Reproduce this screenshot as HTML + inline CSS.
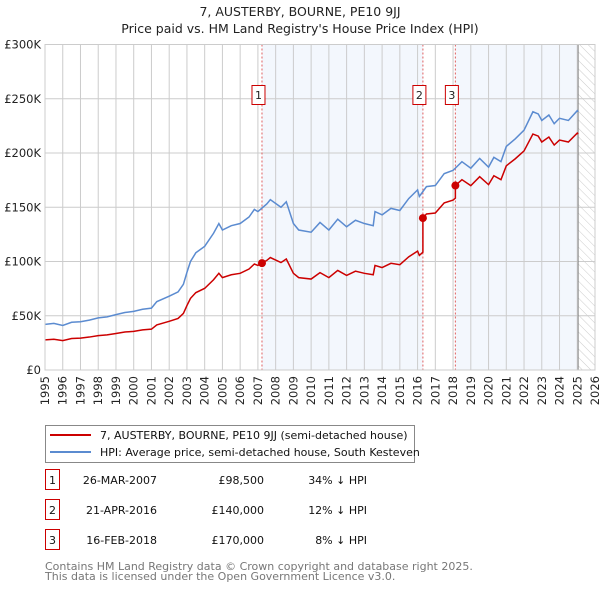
<!DOCTYPE html>
<html><head><meta charset="utf-8"><style>
body{margin:0;background:#fff;font-family:"Liberation Sans","DejaVu Sans",sans-serif;}
svg text{font-family:"DejaVu Sans","Liberation Sans",sans-serif;}
</style></head><body>
<svg id="c" width="600" height="590" viewBox="0 0 600 590">
<defs><pattern id="hatch" width="6" height="6" patternUnits="userSpaceOnUse" patternTransform="rotate(-45)"><line x1="0" y1="0" x2="0" y2="6" stroke="#ccc" stroke-width="1"/></pattern></defs>
<text x="300" y="16" text-anchor="middle" font-size="12.5" fill="#222">7, AUSTERBY, BOURNE, PE10 9JJ</text>
<text x="300" y="33" text-anchor="middle" font-size="12.5" fill="#222">Price paid vs. HM Land Registry's House Price Index (HPI)</text>
<g id="plot"></g>
<g>
<rect x="45.5" y="425.5" width="369" height="37" fill="#fff" stroke="#888"/>
<line x1="50" y1="435" x2="91" y2="435" stroke="#cc0000" stroke-width="2"/>
<text x="100" y="439" font-size="11" fill="#111">7, AUSTERBY, BOURNE, PE10 9JJ (semi-detached house)</text>
<line x1="50" y1="452" x2="91" y2="452" stroke="#5b8bd0" stroke-width="2"/>
<text x="100" y="456" font-size="11" fill="#111">HPI: Average price, semi-detached house, South Kesteven</text>
</g>
<g id="table"></g>
<text x="45" y="570" font-size="11" fill="#777">Contains HM Land Registry data © Crown copyright and database right 2025.</text>
<text x="45" y="580" font-size="11" fill="#777">This data is licensed under the Open Government Licence v3.0.</text>
</svg>
<script>
const hpiYears=[1995,1995.5,1996,1996.5,1997,1997.5,1998,1998.5,1999,1999.5,2000,2000.5,2001,2001.3,2002,2002.5,2002.8,2003,2003.2,2003.5,2004,2004.5,2004.8,2005,2005.5,2006,2006.5,2006.8,2007,2007.5,2007.7,2008.3,2008.6,2009,2009.3,2010,2010.5,2011,2011.5,2012,2012.5,2013,2013.5,2013.6,2014,2014.5,2015,2015.5,2016,2016.1,2016.5,2017,2017.5,2018,2018.5,2019,2019.5,2020,2020.3,2020.7,2021,2021.5,2022,2022.5,2022.8,2023,2023.4,2023.7,2024,2024.5,2025,2025.05];
const hpiValues=[42,43,41,44,44.5,46,48,49,51,53,54,56,57,63,68,72,79,90,100,108,114,126,135,129,133,135,141,148,146,153,157,150,155,135,129,127,136,129,139,132,138,135,133,146,143,149,147,158,166,160,169,170,181,184,192,186,195,187,196,192,206,213,221,238,236,230,235,227,232,230,239,238];
const saleYears=[2007.23,2016.3,2018.13];
const salePrices=[98.5,140,170];
const saleLabels=["1","2","3"];
const saleDates=["26-MAR-2007","21-APR-2016","16-FEB-2018"];
const salePriceText=["£98,500","£140,000","£170,000"];
const saleHpiText=["34% ↓ HPI","12% ↓ HPI","8% ↓ HPI"];
const yTicks=[0,50,100,150,200,250,300];
const yTickLabels=["£0","£50K","£100K","£150K","£200K","£250K","£300K"];
const xTicks=[];for(let y=1995;y<=2026;y++)xTicks.push(y);
const dataEnd=2025.05;

const X0=45,X1=595,Y0=370,Y1=44.5;
const xs=v=>X0+(v-1995)/(2026-1995)*(X1-X0);
const ys=v=>Y0-v/300*(Y0-Y1);
const NS="http://www.w3.org/2000/svg";
const P=document.getElementById('plot');
function mk(tag,attrs,parent){const e=document.createElementNS(NS,tag);for(const k in attrs)e.setAttribute(k,attrs[k]);(parent||P).appendChild(e);return e;}
function hpiAt(t){for(let i=1;i<hpiYears.length;i++){if(t<=hpiYears[i]){const f=(t-hpiYears[i-1])/(hpiYears[i]-hpiYears[i-1]);return hpiValues[i-1]+f*(hpiValues[i]-hpiValues[i-1]);}}return hpiValues[hpiValues.length-1];}

let e;
e=mk('rect',{x:xs(saleYears[0]),y:Y1,width:xs(saleYears[1])-xs(saleYears[0]),height:Y0-Y1,fill:'#eef3fc',opacity:0.7});

e=mk('rect',{x:xs(saleYears[2]),y:Y1,width:xs(dataEnd)-xs(saleYears[2]),height:Y0-Y1,fill:'#eef3fc',opacity:0.7});

e=mk('rect',{x:xs(dataEnd),y:Y1,width:X1-xs(dataEnd),height:Y0-Y1,fill:'url(#hatch)'});

xTicks.forEach(t=>{e=mk('line',{x1:xs(t),x2:xs(t),y1:Y1,y2:Y0,stroke:'#ccc','stroke-width':1});

e=mk('text',{x:0,y:0,transform:`translate(${xs(t)+4},${Y0+6}) rotate(-90)`,'text-anchor':'end','font-size':11.5,fill:'#222'});e.textContent=t;
});
yTicks.forEach((t,i)=>{e=mk('line',{x1:X0,x2:X1,y1:ys(t),y2:ys(t),stroke:'#ccc','stroke-width':1});

e=mk('text',{x:X0-4,y:ys(t)+4,'text-anchor':'end','font-size':11.5,fill:'#222'});e.textContent=yTickLabels[i];
});
e=mk('line',{x1:xs(dataEnd),x2:xs(dataEnd),y1:Y1,y2:Y0,stroke:'#888','stroke-width':1});

saleYears.forEach((s,i)=>{e=mk('line',{x1:xs(s),x2:xs(s),y1:Y1,y2:Y0,stroke:'#e06060','stroke-width':1,'stroke-dasharray':'2,2'});
});

e=mk('polyline',{points:hpiYears.map((t,i)=>xs(t)+','+ys(hpiValues[i])).join(' '),fill:'none',stroke:'#5b8bd0','stroke-width':1.5});

const pts=[];
let ratio=salePrices[0]/hpiAt(saleYears[0]);
let si=1;
hpiYears.forEach((t,i)=>{
 while(si<saleYears.length&&t>=saleYears[si]){const h=hpiAt(saleYears[si]);pts.push([saleYears[si],h*ratio]);ratio=salePrices[si]/h;pts.push([saleYears[si],salePrices[si]]);si++;}
 pts.push([t,hpiValues[i]*ratio]);
});
e=mk('polyline',{points:pts.map(p=>xs(p[0])+','+ys(p[1])).join(' '),fill:'none',stroke:'#cc0000','stroke-width':1.5});

saleYears.forEach((s,i)=>{e=mk('circle',{cx:xs(s),cy:ys(salePrices[i]),r:4,fill:'#cc0000'});

const bx=xs(s)-10;
e=mk('rect',{x:bx,y:85.5,width:13,height:19,fill:'#fff',stroke:'#cc0000'});

e=mk('text',{x:bx+6.5,y:99,'text-anchor':'middle','font-size':11,fill:'#222'});e.textContent=saleLabels[i];
});
e=mk('rect',{x:X0,y:Y1,width:X1-X0,height:Y0-Y1,fill:'none',stroke:'#ccc'});


const T=document.getElementById('table');
saleYears.forEach((s,i)=>{const y=483+i*30;
e=mk('rect',{x:45.5,y:y-13.5,width:14,height:20,fill:'#fff',stroke:'#cc0000'},T);

e=mk('text',{x:52.5,y:y+1,'text-anchor':'middle','font-size':11,fill:'#111'},T);e.textContent=saleLabels[i];

e=mk('text',{x:157,y:y+1,'text-anchor':'end','font-size':11,fill:'#111'},T);e.textContent=saleDates[i];

e=mk('text',{x:264,y:y+1,'text-anchor':'end','font-size':11,fill:'#111'},T);e.textContent=salePriceText[i];

e=mk('text',{x:367,y:y+1,'text-anchor':'end','font-size':11,fill:'#111'},T);e.textContent=saleHpiText[i];
});
</script>
</body></html>
